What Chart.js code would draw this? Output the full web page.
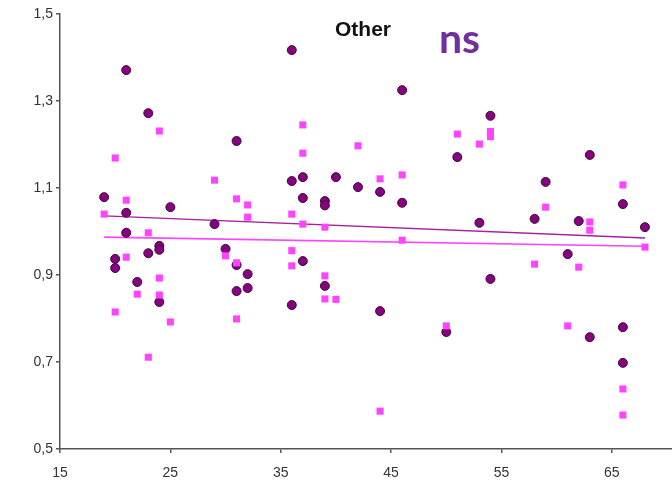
<!DOCTYPE html>
<html>
<head>
<meta charset="utf-8">
<script src="https://cdn.jsdelivr.net/npm/chart.js@4.4.1/dist/chart.umd.min.js"></script>
<style>
  html, body { margin: 0; padding: 0; background: #fff; }
  #wrap { position: relative; width: 672px; height: 483px; }
  #titulo { position: absolute; left: 335px; top: 17px; line-height: 21px; font: bold 21px "Liberation Sans", Arial, sans-serif; color: #111; }
  #ns { position: absolute; left: 439px; top: 13px; line-height: 41px; font: bold 41px Lato, "Open Sans", sans-serif; color: #7030a0; }
</style>
</head>
<body>
<div id="wrap">
  <canvas id="grafico" width="672" height="483"></canvas>
  <div id="titulo">Other</div>
  <div id="ns">ns</div>
</div>
<script>
// puntos oscuros (circulos)
const edadOscuro = [21, 23, 31, 19, 21, 25, 29, 21, 24, 24, 23, 30, 20, 20, 22, 24, 31, 32, 32, 31,
  36, 46, 36, 37, 40, 42, 44, 37, 39, 39, 46, 37, 36, 39, 44, 50,
  54, 51, 63, 59, 53, 58, 62, 66, 68, 54, 61, 63, 66, 66];
const valorOscuro = [1.371, 1.272, 1.208, 1.079, 1.043, 1.056, 1.017, 0.997, 0.967, 0.958, 0.950, 0.960, 0.937, 0.916, 0.884, 0.838, 0.923, 0.902, 0.870, 0.863,
  1.417, 1.325, 1.116, 1.125, 1.125, 1.102, 1.091, 1.077, 1.070, 1.060, 1.066, 0.932, 0.831, 0.875, 0.817, 0.769,
  1.266, 1.171, 1.176, 1.114, 1.020, 1.029, 1.024, 1.063, 1.010, 0.891, 0.948, 0.757, 0.780, 0.698];

// puntos rosas (cuadrados)
const edadRosa = [24, 20, 29, 21, 31, 32, 19, 32, 23, 21, 24, 22, 24, 20, 25, 23, 30, 31, 31,
  37, 37, 42, 44, 46, 36, 37, 39, 36, 46, 36, 39, 39, 40, 44, 50,
  51, 53, 54, 54, 66, 59, 63, 63, 68, 58, 62, 61, 66, 66];
const valorRosa = [1.231, 1.169, 1.118, 1.072, 1.075, 1.061, 1.040, 1.033, 0.997, 0.941, 0.893, 0.856, 0.854, 0.815, 0.792, 0.711, 0.944, 0.928, 0.799,
  1.245, 1.180, 1.197, 1.121, 1.130, 1.040, 1.017, 1.010, 0.956, 0.980, 0.921, 0.898, 0.845, 0.844, 0.587, 0.783,
  1.224, 1.201, 1.230, 1.218, 1.107, 1.056, 1.022, 1.003, 0.964, 0.925, 0.918, 0.783, 0.638, 0.578];

// lineas de tendencia
const tendenciaX = [19, 68];
const tendenciaOscuro = [1.036, 0.985];
const tendenciaRosa = [0.987, 0.966];

const ticksX = [15, 25, 35, 45, 55, 65];

const puntos = (xs, ys) => xs.map((x, i) => ({ x: x, y: ys[i] }));

const ctx = document.getElementById('grafico').getContext('2d');
new Chart(ctx, {
  type: 'scatter',
  data: {
    datasets: [
      {
        label: 'rosa',
        data: puntos(edadRosa, valorRosa),
        pointStyle: 'rect',
        pointRadius: 5,
        backgroundColor: '#ff44ff',
        borderColor: '#ff44ff',
        borderWidth: 0,
        order: 1
      },
      {
        label: 'oscuro',
        data: puntos(edadOscuro, valorOscuro),
        pointStyle: 'circle',
        pointRadius: 4.5,
        backgroundColor: '#85037f',
        borderColor: '#3d0a3a',
        borderWidth: 1,
        order: 2
      },
      {
        type: 'line',
        label: 'tend oscuro',
        data: puntos(tendenciaX, tendenciaOscuro),
        borderColor: '#a51fa0',
        borderWidth: 1.4,
        pointRadius: 0,
        fill: false,
        order: 3
      },
      {
        type: 'line',
        label: 'tend rosa',
        data: puntos(tendenciaX, tendenciaRosa),
        borderColor: '#ff44ff',
        borderWidth: 1.6,
        pointRadius: 0,
        fill: false,
        order: 3
      }
    ]
  },
  options: {
    responsive: false,
    devicePixelRatio: 1,
    animation: false,
    layout: { autoPadding: false, padding: { top: 14, right: 0, left: 0, bottom: 0 } },
    plugins: { legend: { display: false }, tooltip: { enabled: false } },
    scales: {
      x: {
        type: 'linear',
        min: 15,
        max: 70.45,
        afterBuildTicks: axis => { axis.ticks = ticksX.map(v => ({ value: v })); },
        afterFit: axis => { axis.height = 34; },
        grid: { display: true, drawOnChartArea: false, drawTicks: true, tickLength: 4, color: '#555', lineWidth: 1.5 },
        border: { display: true, color: '#555', width: 1.5 },
        ticks: { color: '#333', padding: 12, font: { family: 'Liberation Sans', size: 14 } }
      },
      y: {
        min: 0.5,
        max: 1.5,
        ticks: {
          stepSize: 0.2,
          color: '#333',
          padding: 3,
          font: { family: 'Liberation Sans', size: 14 },
          callback: v => v.toFixed(1).replace('.', ',')
        },
        afterFit: axis => { axis.width = 60; },
        grid: { display: true, drawOnChartArea: false, drawTicks: true, tickLength: 4, color: '#555', lineWidth: 1.5 },
        border: { display: true, color: '#555', width: 1.5 }
      }
    }
  }
});
</script>
</body>
</html>
